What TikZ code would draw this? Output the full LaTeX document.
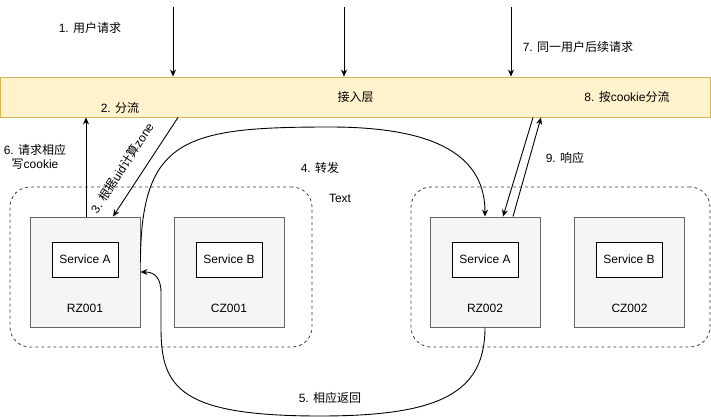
\documentclass[tikz,border=0pt]{standalone}
\usepackage{fontspec}
\setmainfont{Liberation Sans}
\newfontfamily\cjk{Noto Sans CJK SC}
\newcommand{\zh}[1]{{\cjk #1}}
\usepackage{tikz}
\usepackage{xcolor}
\usetikzlibrary{arrows.meta,positioning,calc}
\definecolor{gwfill}{HTML}{FFF2CC}
\definecolor{gwline}{HTML}{D6B656}
\definecolor{zonefill}{HTML}{F5F5F5}
\definecolor{zoneline}{HTML}{666666}

\begin{document}
\begin{tikzpicture}[x=1pt, y=1pt, >={Stealth[length=7pt,width=6pt]},
  every node/.style={font=\fontsize{12}{14}\selectfont},
  zonebox/.style={draw=zoneline, fill=zonefill, line width=0.9pt, minimum width=110pt, minimum height=110pt},
  svcbox/.style={draw, fill=white, line width=0.9pt, minimum width=66pt, minimum height=35pt, inner sep=0pt},
  groupbox/.style={draw=black!75, dashed, dash pattern=on 3pt off 3pt, rounded corners=20pt, minimum height=160pt, line width=0.8pt},
  flow/.style={->, line width=0.9pt}]
  \useasboundingbox (0,0) rectangle (711,418);

  % access layer
  \node[draw=gwline, fill=gwfill, line width=0.9pt, minimum width=710pt, minimum height=40pt] (gw) at (355.5,321) {\zh{接入层}};

  % zone groups
  \node[groupbox, minimum width=302pt] (grp1) at (161,151) {};
  \node[groupbox, minimum width=299pt] (grp2) at (560.5,151) {};
  \node (grptext) at (340,220) {Text};

  \node[zonebox] (rz1) at (85,146) {};
  \node[zonebox] (cz1) at (229,146) {};
  \node[zonebox] (rz2) at (485,146) {};
  \node[zonebox] (cz2) at (629.5,146) {};
  \node[svcbox] (sa1) at (85,158.5) {Service A};
  \node[svcbox] (sb1) at (229,158.5) {Service B};
  \node[svcbox] (sa2) at (485,158.5) {Service A};
  \node[svcbox] (sb2) at (629,158.5) {Service B};
  \node at ([yshift=19pt]rz1.south) (lrz1) {RZ001};
  \node at ([yshift=19pt]cz1.south) (lcz1) {CZ001};
  \node at ([yshift=19pt]rz2.south) (lrz2) {RZ002};
  \node at ([yshift=19pt]cz2.south) (lcz2) {CZ002};

  % incoming requests
  \coordinate (req1) at (173,411);
  \coordinate (req2) at (344,411);
  \coordinate (req3) at (511,411);
  \draw[flow] (req1) -- (req1 |- gw.north);
  \draw[flow] (req2) -- (req2 |- gw.north);
  \draw[flow] (req3) -- (req3 |- gw.north);

  % first request
  \draw[flow] ([xshift=93pt]rz1.north |- gw.south) -- ([xshift=28pt]rz1.north);
  \draw[flow] ([xshift=1pt]rz1.north) -- ([xshift=1pt]rz1.north |- gw.south);
  \draw[flow] ([yshift=10pt]rz1.east) .. controls (141,280) and (185,291) .. (330,291)
    .. controls (440,291) and (485,260) .. (rz2.north);
  \draw[flow] (rz2.south) .. controls (485,25) and (440,2) .. (320,2)
    .. controls (180,2) and (161,30) .. (161,90) -- (161,125)
    .. controls (161,140) and (155,146) .. (rz1.east);

  % follow-up request
  \draw[flow] ([xshift=48pt]rz2.north |- gw.south) -- ([xshift=18pt]rz2.north);
  \draw[flow] ([xshift=28pt]rz2.north) -- ([xshift=56pt]rz2.north |- gw.south);

  % labels
  \node (l1) at (90,390) {1. \zh{用户请求}};
  \node (l2) at (120,310) {2. \zh{分流}};
  \node[rotate=57] (l3) at (122,250) {3. \zh{根据}uid\zh{计算}zone};
  \node (l4) at (320,250) {4. \zh{转发}};
  \node (l5) at (330,20) {5. \zh{相应返回}};
  \node[align=center] (l6) at (35,261) {6. \zh{请求相应}\\\zh{写}cookie};
  \node (l7) at (578,371) {7. \zh{同一用户后续请求}};
  \node (l8) at (627,321) {8. \zh{按}cookie\zh{分流}};
  \node (l9) at (565,260) {9. \zh{响应}};
\end{tikzpicture}
\end{document}
